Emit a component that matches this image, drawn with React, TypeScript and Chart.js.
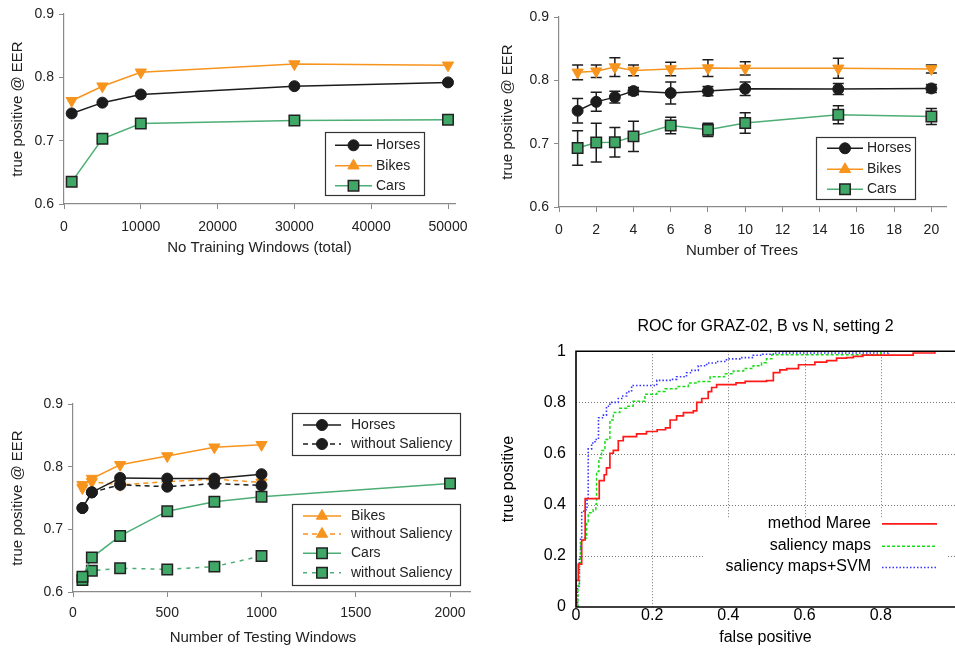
import React, { useEffect, useRef } from 'react';
import { Chart, registerables } from 'chart.js';
import { drawPoint } from 'chart.js/helpers';

Chart.register(...registerables);
Chart.defaults.font.family = "'Liberation Sans', Arial, sans-serif";

// ---------- Panel A: number of training windows ----------
const trainWindows = [1000, 5000, 10000, 30000, 50000];
const trainHorses = [0.743, 0.760, 0.773, 0.786, 0.792];
const trainBikes = [0.763, 0.786, 0.808, 0.821, 0.819];
const trainCars = [0.635, 0.703, 0.727, 0.732, 0.733];
const trainTicksX = [0, 10000, 20000, 30000, 40000, 50000];

// ---------- Panel B: number of trees ----------
const trees = [1, 2, 3, 4, 6, 8, 10, 15, 20];
const treesHorses = [0.752, 0.766, 0.7735, 0.783, 0.780, 0.783, 0.7867, 0.7862, 0.7872];
const treesHorsesErr = [0.0195, 0.015, 0.0092, 0.0058, 0.0174, 0.0074, 0.0105, 0.0087, 0.0063];
const treesBikes = [0.8126, 0.8144, 0.821, 0.8157, 0.8179, 0.8194, 0.8189, 0.8189, 0.818];
const treesBikesErr = [0.0116, 0.0098, 0.0148, 0.0084, 0.0105, 0.0132, 0.0105, 0.0158, 0.0063];
const treesCars = [0.6931, 0.7018, 0.7023, 0.7115, 0.7287, 0.7218, 0.7327, 0.7456, 0.7429];
const treesCarsErr = [0.0272, 0.0306, 0.0232, 0.024, 0.0132, 0.0105, 0.0161, 0.0142, 0.0127];
const treesTicksX = [0, 2, 4, 6, 8, 10, 12, 14, 16, 18, 20];

// ---------- Panel C: number of testing windows ----------
const testWindows = [50, 100, 250, 500, 750, 1000];
const testHorses = [0.734, 0.759, 0.782, 0.781, 0.781, 0.788];
const testHorsesNoSal = [0.734, 0.759, 0.771, 0.768, 0.773, 0.770];
const testBikes = [0.771, 0.781, 0.803, 0.817, 0.831, 0.835];
const testBikesNoSal = [0.766, 0.776, 0.771, 0.776, 0.780, 0.775];
const testCarsWindows = [50, 100, 250, 500, 750, 1000, 2000];
const testCars = [0.6245, 0.655, 0.6895, 0.729, 0.744, 0.752, 0.773];
const testCarsNoSal = [0.619, 0.634, 0.638, 0.636, 0.6405, 0.6575];
const testTicksX = [0, 500, 1000, 1500, 2000];

const eerTicksY = [0.6, 0.7, 0.8, 0.9];

// ---------- Panel D: ROC ----------
const rocMareeFpr = [0, 0, 0.006, 0.015, 0.024, 0.061, 0.074, 0.080, 0.089, 0.098, 0.111, 0.124, 0.159, 0.185, 0.213, 0.235, 0.247, 0.264, 0.282, 0.308, 0.317, 0.330, 0.347, 0.356, 0.369, 0.420, 0.444, 0.500, 0.518, 0.535, 0.553, 0.584, 0.627, 0.658, 0.684, 0.710, 0.728, 0.753, 0.885, 0.942, 0.995];
const rocMareeTpr = [0, 0.104, 0.168, 0.262, 0.424, 0.494, 0.517, 0.544, 0.601, 0.612, 0.650, 0.666, 0.677, 0.686, 0.693, 0.700, 0.731, 0.747, 0.760, 0.767, 0.800, 0.815, 0.842, 0.858, 0.869, 0.876, 0.882, 0.885, 0.916, 0.927, 0.932, 0.947, 0.957, 0.963, 0.973, 0.975, 0.980, 0.985, 0.993, 1.0, 1.0];
const rocSalFpr = [0.005, 0.005, 0.009, 0.012, 0.019, 0.028, 0.032, 0.045, 0.052, 0.054, 0.060, 0.067, 0.076, 0.089, 0.098, 0.115, 0.133, 0.150, 0.181, 0.212, 0.234, 0.264, 0.295, 0.321, 0.352, 0.390, 0.413, 0.440, 0.465, 0.487, 0.500, 0.514, 0.800, 0.995];
const rocSalTpr = [0, 0.084, 0.170, 0.260, 0.270, 0.334, 0.368, 0.380, 0.402, 0.530, 0.582, 0.612, 0.655, 0.731, 0.760, 0.777, 0.785, 0.804, 0.832, 0.842, 0.853, 0.862, 0.876, 0.882, 0.900, 0.912, 0.923, 0.932, 0.943, 0.955, 0.970, 0.986, 1.0, 1.0];
const rocSvmFpr = [0.004, 0.004, 0.009, 0.012, 0.015, 0.026, 0.029, 0.032, 0.041, 0.050, 0.059, 0.072, 0.080, 0.089, 0.111, 0.120, 0.133, 0.146, 0.212, 0.247, 0.264, 0.290, 0.304, 0.321, 0.343, 0.369, 0.395, 0.430, 0.465, 0.490, 0.518, 0.820, 0.995];
const rocSvmTpr = [0, 0.080, 0.190, 0.270, 0.375, 0.380, 0.420, 0.618, 0.641, 0.655, 0.740, 0.750, 0.785, 0.800, 0.815, 0.825, 0.842, 0.866, 0.886, 0.890, 0.900, 0.916, 0.925, 0.943, 0.954, 0.960, 0.970, 0.975, 0.984, 0.988, 0.993, 1.0, 1.0];
const rocTicks = [0, 0.2, 0.4, 0.6, 0.8, 1];
const rocTickLabels = ['0', '0.2', '0.4', '0.6', '0.8', '1'];

// ---------- styles ----------
const BLACK = '#1c1c1c';
const ORANGE = '#f7941e';
const GREEN_LINE = '#4cae74';
const GREEN_FILL = '#3fa866';
const EDGE = '#222';
const AXIS = '#8a8a8a';
const TEXT = '#222';

const pts = (xs: number[], ys: number[]) => ys.map((y, i) => ({ x: xs[i], y }));

function horsesDs(label: string, xs: number[], ys: number[], dash: number[] = []) {
  return {
    label, data: pts(xs, ys), borderColor: BLACK, backgroundColor: BLACK, borderWidth: 1.5, borderDash: dash,
    pointStyle: 'circle', pointRadius: 5.5, pointBackgroundColor: BLACK, pointBorderColor: BLACK, pointBorderWidth: 1,
    tension: 0,
  };
}
function bikesDs(label: string, xs: number[], ys: number[], dash: number[] = []) {
  return {
    label, data: pts(xs, ys), borderColor: ORANGE, backgroundColor: ORANGE, borderWidth: 1.5, borderDash: dash,
    pointStyle: 'triangle', pointRotation: 180, pointRadius: 6.5, pointBackgroundColor: ORANGE, pointBorderColor: ORANGE, pointBorderWidth: 1,
    tension: 0,
  };
}
function carsDs(label: string, xs: number[], ys: number[], dash: number[] = []) {
  return {
    label, data: pts(xs, ys), borderColor: GREEN_LINE, backgroundColor: GREEN_FILL, borderWidth: 1.5, borderDash: dash,
    pointStyle: 'rect', pointRadius: 7.4, pointBackgroundColor: GREEN_FILL, pointBorderColor: EDGE, pointBorderWidth: 1.5,
    tension: 0,
  };
}

// ---------- plugins ----------
const errorBarPlugin = {
  id: 'errorBars',
  beforeDatasetsDraw(chart: any) {
    const { ctx } = chart;
    const xs = chart.scales.x, ys = chart.scales.y;
    chart.data.datasets.forEach((ds: any) => {
      const errs: number[] | undefined = ds.errors;
      if (!errs) return;
      ctx.save();
      ctx.strokeStyle = BLACK;
      ctx.lineWidth = 1.5;
      ds.data.forEach((p: any, i: number) => {
        const x = xs.getPixelForValue(p.x);
        const y0 = ys.getPixelForValue(p.y - errs[i]);
        const y1 = ys.getPixelForValue(p.y + errs[i]);
        ctx.beginPath();
        ctx.moveTo(x, y0); ctx.lineTo(x, y1);
        ctx.moveTo(x - 5.5, y0); ctx.lineTo(x + 5.5, y0);
        ctx.moveTo(x - 5.5, y1); ctx.lineTo(x + 5.5, y1);
        ctx.stroke();
      });
      ctx.restore();
    });
  },
};

const boxLegendPlugin = {
  id: 'boxLegend',
  afterDraw(chart: any, _a: any, opts: any) {
    if (!opts || !opts.boxes) return;
    const ctx = chart.ctx;
    opts.boxes.forEach((b: any) => {
      ctx.save();
      ctx.fillStyle = '#fff';
      ctx.fillRect(b.x, b.y, b.w, b.h);
      ctx.strokeStyle = '#333';
      ctx.lineWidth = 1.2;
      ctx.strokeRect(b.x + 0.5, b.y + 0.5, b.w, b.h);
      b.rows.forEach((r: any) => {
        const ds = chart.data.datasets[r.ds];
        ctx.strokeStyle = ds.borderColor;
        ctx.lineWidth = ds.borderWidth;
        ctx.setLineDash(ds.borderDash || []);
        ctx.beginPath();
        ctx.moveTo(b.lineX0, r.y);
        ctx.lineTo(b.lineX1, r.y);
        ctx.stroke();
        ctx.setLineDash([]);
        ctx.fillStyle = ds.pointBackgroundColor;
        ctx.strokeStyle = ds.pointBorderColor;
        ctx.lineWidth = ds.pointBorderWidth;
        drawPoint(ctx, { pointStyle: ds.pointStyle, rotation: 0, radius: ds.pointRadius, borderWidth: ds.pointBorderWidth } as any, (b.lineX0 + b.lineX1) / 2, r.y);
        ctx.fillStyle = TEXT;
        ctx.font = "14px 'Liberation Sans', Arial, sans-serif";
        ctx.textAlign = 'left';
        ctx.textBaseline = 'middle';
        ctx.fillText(ds.label, b.textX, r.y);
      });
      ctx.restore();
    });
  },
};

const extraTextPlugin = {
  id: 'extraText',
  afterDraw(chart: any, _a: any, opts: any) {
    if (!opts || !opts.items) return;
    const ctx = chart.ctx;
    opts.items.forEach((t: any) => {
      ctx.save();
      ctx.fillStyle = t.color || TEXT;
      ctx.font = t.font;
      ctx.textAlign = 'center';
      ctx.textBaseline = 'middle';
      ctx.fillText(t.text, t.x, t.y);
      ctx.restore();
    });
  },
};

const rocDecorPlugin = {
  id: 'rocDecor',
  beforeDatasetsDraw(chart: any, _a: any, opts: any) {
    const { ctx, chartArea: ca } = chart;
    const xs = chart.scales.x, ys = chart.scales.y;
    ctx.save();
    ctx.strokeStyle = '#777';
    ctx.lineWidth = 1;
    ctx.setLineDash([1, 2]);
    rocTicks.forEach((v) => {
      if (v <= 0 || v >= 1) return;
      const px = Math.round(xs.getPixelForValue(v)) + 0.5;
      ctx.beginPath(); ctx.moveTo(px, ca.top); ctx.lineTo(px, ca.bottom); ctx.stroke();
      const py = Math.round(ys.getPixelForValue(v)) + 0.5;
      ctx.beginPath(); ctx.moveTo(ca.left, py); ctx.lineTo(ca.right, py); ctx.stroke();
    });
    ctx.setLineDash([]);
    const k = opts.keyArea;
    const x0 = xs.getPixelForValue(k.x0), x1 = xs.getPixelForValue(k.x1);
    const y0 = ys.getPixelForValue(k.y1), y1 = ca.bottom;
    ctx.fillStyle = '#fff';
    ctx.fillRect(x0, y0, x1 - x0, y1 - y0);
    ctx.restore();
  },
  afterDatasetsDraw(chart: any) {
    const { ctx, chartArea: ca } = chart;
    ctx.save();
    ctx.strokeStyle = '#000';
    ctx.lineWidth = 1.6;
    ctx.beginPath();
    ctx.moveTo(ca.right + 5, ca.top);
    ctx.lineTo(ca.left, ca.top);
    ctx.lineTo(ca.left, ca.bottom);
    ctx.lineTo(ca.right + 5, ca.bottom);
    ctx.stroke();
    ctx.restore();
  },
  afterDraw(chart: any, _a: any, opts: any) {
    const ctx = chart.ctx;
    const L = opts.legend;
    L.rows.forEach((r: any) => {
      const ds = chart.data.datasets[r.ds];
      ctx.save();
      ctx.fillStyle = '#000';
      ctx.font = "16px 'Liberation Sans', Arial, sans-serif";
      ctx.textAlign = 'right';
      ctx.textBaseline = 'middle';
      ctx.fillText(ds.label, L.textRight, r.y);
      ctx.strokeStyle = ds.borderColor;
      ctx.lineWidth = ds.borderWidth;
      ctx.setLineDash(ds.borderDash || []);
      ctx.beginPath();
      ctx.moveTo(L.lineX0, r.y + 0.5);
      ctx.lineTo(L.lineX1, r.y + 0.5);
      ctx.stroke();
      ctx.restore();
    });
  },
};

// ---------- axes helper ----------
function eerScales(p: { xMax: number; xTicks: number[]; yWidth: number; xHeight: number; yTitlePad: number; xTickLH: number; xTitle?: string }) {
  return {
    x: {
      type: 'linear', min: 0, max: p.xMax,
      afterBuildTicks: (s: any) => { s.ticks = p.xTicks.map((v) => ({ value: v })); },
      afterFit: (s: any) => { s.height = p.xHeight; },
      ticks: { autoSkip: false, maxRotation: 0, padding: 4, color: TEXT, font: { size: 14, lineHeight: p.xTickLH }, callback: (v: any) => String(v) },
      grid: { drawOnChartArea: false, drawTicks: true, tickLength: 5, color: AXIS, lineWidth: 1 },
      border: { color: AXIS, width: 1.2 },
      title: p.xTitle
        ? { display: true, text: p.xTitle, color: TEXT, font: { size: 15 }, padding: { top: 0, bottom: 3 } }
        : { display: false },
    },
    y: {
      type: 'linear', min: 0.6, max: 0.9,
      afterBuildTicks: (s: any) => { s.ticks = eerTicksY.map((v) => ({ value: v })); },
      afterFit: (s: any) => { s.width = p.yWidth; },
      ticks: { padding: 5, color: TEXT, font: { size: 14 }, callback: (v: any) => Number(v).toFixed(1) },
      grid: { drawOnChartArea: false, drawTicks: true, tickLength: 5, color: AXIS, lineWidth: 1 },
      border: { color: AXIS, width: 1.2 },
      title: { display: true, text: 'true positive @ EER', color: TEXT, font: { size: 15 }, padding: { top: p.yTitlePad, bottom: 0 } },
    },
  };
}

const baseOpts = {
  responsive: false,
  animation: false,
  devicePixelRatio: 1,
  events: [],
};

function makeTraining(): any {
  return {
    type: 'line',
    data: {
      datasets: [
        horsesDs('Horses', trainWindows, trainHorses),
        bikesDs('Bikes', trainWindows, trainBikes),
        carsDs('Cars', trainWindows, trainCars),
      ],
    },
    options: {
      ...baseOpts,
      layout: { padding: { top: 14, right: 23, left: 0, bottom: 0 } },
      scales: eerScales({ xMax: 50911, xTicks: trainTicksX, yWidth: 64, xHeight: 56, yTitlePad: 9, xTickLH: 1.957, xTitle: 'No Training Windows (total)' }),
      plugins: {
        legend: { display: false },
        tooltip: { enabled: false },
        boxLegend: {
          boxes: [{ x: 325, y: 132, w: 99, h: 63, lineX0: 335, lineX1: 372, textX: 376, rows: [{ ds: 0, y: 145.3 }, { ds: 1, y: 165.7 }, { ds: 2, y: 185.7 }] }],
        },
      },
    },
    plugins: [boxLegendPlugin],
  };
}

function makeTrees(): any {
  return {
    type: 'line',
    data: {
      datasets: [
        { ...horsesDs('Horses', trees, treesHorses), errors: treesHorsesErr },
        { ...bikesDs('Bikes', trees, treesBikes), errors: treesBikesErr },
        { ...carsDs('Cars', trees, treesCars), errors: treesCarsErr },
      ],
    },
    options: {
      ...baseOpts,
      layout: { padding: { top: 17, right: 0, left: 0, bottom: 0 } },
      scales: eerScales({ xMax: 20.79, xTicks: treesTicksX, yWidth: 79, xHeight: 53, yTitlePad: 19, xTickLH: 2.0 }),
      plugins: {
        legend: { display: false },
        tooltip: { enabled: false },
        boxLegend: {
          boxes: [{ x: 336, y: 137, w: 99, h: 62, lineX0: 347, lineX1: 383, textX: 387, rows: [{ ds: 0, y: 148.3 }, { ds: 1, y: 169.3 }, { ds: 2, y: 189.3 }] }],
        },
        extraText: { items: [{ text: 'Number of Trees', x: 262, y: 251, font: "15px 'Liberation Sans', Arial, sans-serif" }] },
      },
    },
    plugins: [errorBarPlugin, boxLegendPlugin, extraTextPlugin],
  };
}

function makeTesting(): any {
  return {
    type: 'line',
    data: {
      datasets: [
        horsesDs('Horses', testWindows, testHorses),
        horsesDs('without Saliency', testWindows, testHorsesNoSal, [5, 4]),
        bikesDs('Bikes', testWindows, testBikes),
        bikesDs('without Saliency', testWindows, testBikesNoSal, [5, 4]),
        carsDs('Cars', testCarsWindows, testCars),
        carsDs('without Saliency', testWindows, testCarsNoSal, [4, 5]),
      ],
    },
    options: {
      ...baseOpts,
      layout: { padding: { top: 24, right: 10, left: 0, bottom: 0 } },
      scales: eerScales({ xMax: 2106, xTicks: testTicksX, yWidth: 73, xHeight: 58, yTitlePad: 9, xTickLH: 1.714 }),
      plugins: {
        legend: { display: false },
        tooltip: { enabled: false },
        boxLegend: {
          boxes: [
            { x: 292, y: 33, w: 168, h: 42, lineX0: 303, lineX1: 341, textX: 351, rows: [{ ds: 0, y: 45 }, { ds: 1, y: 64 }] },
            { x: 292, y: 124, w: 168, h: 81, lineX0: 303, lineX1: 341, textX: 351, rows: [{ ds: 2, y: 136 }, { ds: 3, y: 154 }, { ds: 4, y: 173.3 }, { ds: 5, y: 192.7 }] },
          ],
        },
        extraText: { items: [{ text: 'Number of Testing Windows', x: 263, y: 258, font: "15px 'Liberation Sans', Arial, sans-serif" }] },
      },
    },
    plugins: [boxLegendPlugin, extraTextPlugin],
  };
}

function makeRoc(): any {
  const line = (label: string, xs: number[], ys: number[], color: string, dash: number[], w: number) => ({
    label, data: pts(xs, ys), borderColor: color, backgroundColor: color, borderWidth: w, borderDash: dash,
    pointRadius: 0, stepped: 'before', tension: 0,
  });
  const tickCb = (v: any) => {
    const i = rocTicks.findIndex((t) => Math.abs(t - Number(v)) < 1e-9);
    return i >= 0 ? rocTickLabels[i] : '';
  };
  return {
    type: 'line',
    data: {
      datasets: [
        line('method Maree', rocMareeFpr, rocMareeTpr, '#ff1a1a', [], 1.7),
        line('saliency maps', rocSalFpr, rocSalTpr, '#19dd19', [3, 2], 1.5),
        line('saliency maps+SVM', rocSvmFpr, rocSvmTpr, '#3535ff', [1.5, 2], 1.6),
      ],
    },
    options: {
      ...baseOpts,
      layout: { padding: { top: 0, right: 0, left: 0, bottom: 0 } },
      scales: {
        x: {
          type: 'linear', min: 0, max: 0.9948,
          afterBuildTicks: (s: any) => { s.ticks = rocTicks.filter((v) => v < 1).map((v) => ({ value: v })); },
          afterFit: (s: any) => { s.height = 43; },
          ticks: { autoSkip: false, maxRotation: 0, padding: 4, color: '#000', font: { size: 16, lineHeight: 0.625 }, callback: tickCb },
          grid: { display: false, drawTicks: false, drawOnChartArea: false },
          border: { display: false },
          title: { display: true, text: 'false positive', color: '#000', font: { size: 16 }, padding: { top: 0, bottom: 2.4 } },
        },
        y: {
          type: 'linear', min: 0, max: 1,
          afterBuildTicks: (s: any) => { s.ticks = rocTicks.map((v) => ({ value: v })); },
          afterFit: (s: any) => { s.width = 96; },
          ticks: { padding: 10, color: '#000', font: { size: 16 }, callback: tickCb },
          grid: { display: false, drawTicks: false, drawOnChartArea: false },
          border: { display: false },
          title: { display: true, text: 'true positive', color: '#000', font: { size: 16 }, padding: { top: 19.4, bottom: 0 } },
        },
      },
      plugins: {
        legend: { display: false },
        tooltip: { enabled: false },
        title: {
          display: true, text: 'ROC for GRAZ-02, B vs N, setting 2', fullSize: false, color: '#000',
          font: { size: 16, weight: 'normal' }, padding: { top: 7, bottom: 15 },
        },
        rocDecor: {
          keyArea: { x0: 0.333, x1: 0.976, y1: 0.346 },
          legend: { textRight: 391, lineX0: 402, lineX1: 457, rows: [{ ds: 0, y: 213.3 }, { ds: 1, y: 235.7 }, { ds: 2, y: 257 }] },
        },
      },
    },
    plugins: [rocDecorPlugin],
  };
}

function Panel({ left, top, width, height, make }: { left: number; top: number; width: number; height: number; make: () => any }) {
  const ref = useRef<HTMLCanvasElement>(null);
  useEffect(() => {
    const chart = new Chart(ref.current as HTMLCanvasElement, make());
    return () => chart.destroy();
  }, [make]);
  return (
    <canvas
      ref={ref}
      width={width}
      height={height}
      style={{ position: 'absolute', left, top, width, height, display: 'block' }}
    />
  );
}

export default function App() {
  return (
    <div style={{ position: 'fixed', left: 0, top: 0, width: 955, height: 650, background: '#fff', overflow: 'hidden' }}>
      <Panel left={0} top={0} width={478} height={260} make={makeTraining} />
      <Panel left={480} top={0} width={475} height={260} make={makeTrees} />
      <Panel left={0} top={380} width={480} height={270} make={makeTesting} />
      <Panel left={480} top={310} width={475} height={340} make={makeRoc} />
    </div>
  );
}
